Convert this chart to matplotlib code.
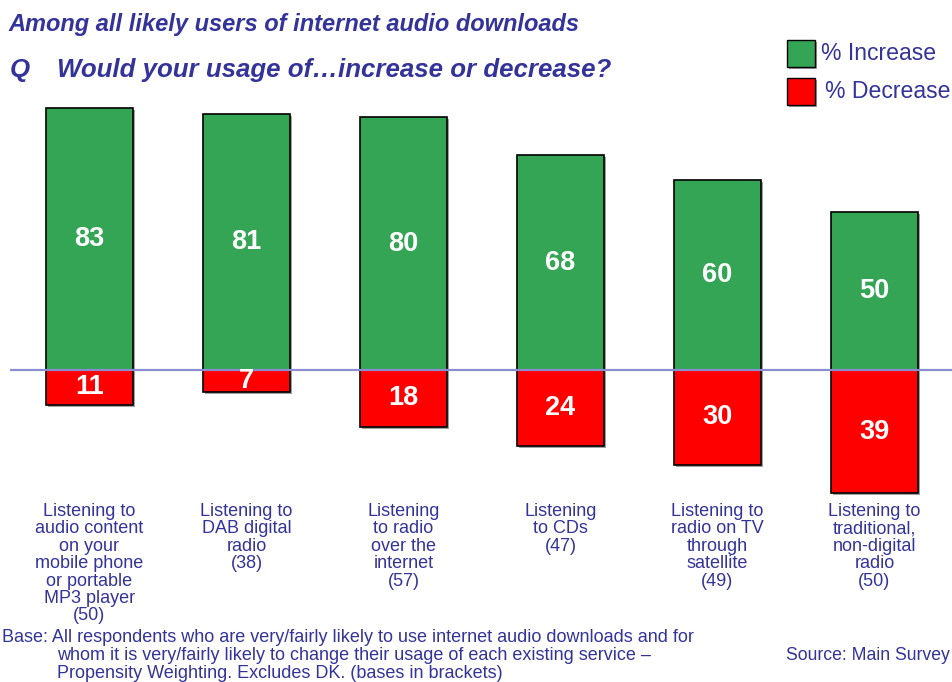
import matplotlib
matplotlib.use("Agg")
import matplotlib.pyplot as plt
import matplotlib.patheffects as pe
import numpy as np

# Survey results: share of respondents expecting usage to rise / fall
categories = [
    "Listening to\naudio content\non your\nmobile phone\nor portable\nMP3 player\n(50)",
    "Listening to\nDAB digital\nradio\n(38)",
    "Listening\nto radio\nover the\ninternet\n(57)",
    "Listening\nto CDs\n(47)",
    "Listening to\nradio on TV\nthrough\nsatellite\n(49)",
    "Listening to\ntraditional,\nnon-digital\nradio\n(50)",
]
increase = [83, 81, 80, 68, 60, 50]
decrease = [11, 7, 18, 24, 30, 39]

NAVY = "#333399"
GREEN = "#33a555"
RED = "#ff0000"
FONT = "Liberation Sans"

plt.rcParams["font.family"] = [FONT, "DejaVu Sans"]

fig = plt.figure(figsize=(9.53, 6.82), dpi=100)
W, H = 953, 682

# axes placed in pixel terms: zero line at y=370, 3.16 px per percentage point
ax_left_px, ax_right_px = 10, 953
ymin, ymax = -45, 90
ppu = 3.16
zero_px = 370
ax_top_px = zero_px - ymax * ppu
ax_bot_px = zero_px - ymin * ppu
ax = fig.add_axes([ax_left_px / W, (H - ax_bot_px) / H,
                   (ax_right_px - ax_left_px) / W, (ax_bot_px - ax_top_px) / H])

x = np.arange(len(categories))
spacing = 157.0
center0 = 89.5
ax.set_xlim((ax_left_px - center0) / spacing, (ax_right_px - center0) / spacing)
ax.set_ylim(ymin, ymax)
ax.axis("off")

shadow = [pe.SimplePatchShadow(offset=(1.5, -1.5), shadow_rgbFace="#888888", alpha=0.8), pe.Normal()]
bw = 0.555
up = ax.bar(x, increase, width=bw, color=GREEN, edgecolor="black", linewidth=1.2, zorder=2)
down = ax.bar(x, [-d for d in decrease], width=bw, color=RED, edgecolor="black", linewidth=1.2, zorder=2)
for b in list(up) + list(down):
    b.set_path_effects(shadow)

ax.axhline(0, color="#8c8cd0", linewidth=1.6, zorder=3)

for xi, v in zip(x, increase):
    ax.text(xi, v / 2, str(v), ha="center", va="center", color="white",
            fontsize=19.5, fontweight="bold", zorder=4)
for xi, v in zip(x, decrease):
    ax.text(xi, -v / 2, str(v), ha="center", va="center", color="white",
            fontsize=19.5, fontweight="bold", zorder=4)

# category labels below the plot
for xi, lab in zip(x, categories):
    px = center0 + xi * spacing
    fig.text(px / W, 1 - 503 / H, lab, ha="center", va="top", color=NAVY,
             fontsize=13, linespacing=1.03)

# titles
fig.text(8 / W, 1 - 24 / H, "Among all likely users of internet audio downloads",
         ha="left", va="center", color=NAVY, fontsize=17, fontweight="bold", style="italic")
fig.text(10 / W, 1 - 70 / H, "Q", ha="left", va="center", color=NAVY,
         fontsize=18.6, fontweight="bold", style="italic")
fig.text(57 / W, 1 - 70 / H, "Would your usage of\u2026increase or decrease?",
         ha="left", va="center", color=NAVY, fontsize=18.6, fontweight="bold", style="italic")

# legend
for (yc, col, lab, tx) in [(53, GREEN, "% Increase", 821), (91, RED, "% Decrease", 825)]:
    r = plt.Rectangle((787 / W, 1 - (yc + 13.5) / H), 28 / W, 27 / H, transform=fig.transFigure,
                      facecolor=col, edgecolor="black", linewidth=1.0)
    r.set_path_effects(shadow)
    fig.add_artist(r)
    fig.text(tx / W, 1 - yc / H, lab, ha="left", va="center", color=NAVY, fontsize=16.6)

# footnotes
fig.text(2 / W, 1 - 637 / H, "Base: All respondents who are very/fairly likely to use internet audio downloads and for",
         ha="left", va="center", color=NAVY, fontsize=13)
fig.text(57 / W, 1 - 655 / H, "whom it is very/fairly likely to change their usage of each existing service \u2013",
         ha="left", va="center", color=NAVY, fontsize=13)
fig.text(57 / W, 1 - 673 / H, "Propensity Weighting. Excludes DK. (bases in brackets)",
         ha="left", va="center", color=NAVY, fontsize=13)
fig.text(950 / W, 1 - 655 / H, "Source: Main Survey", ha="right", va="center", color=NAVY, fontsize=12.7)

fig.savefig("out.png", dpi=100)
